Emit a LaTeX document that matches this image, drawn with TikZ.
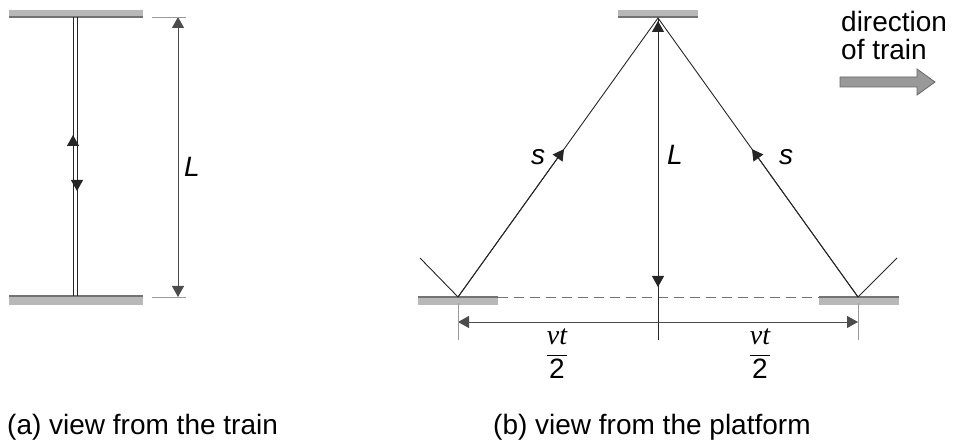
\documentclass[tikz,border=0pt]{standalone}
\usepackage{fontspec}
\setmainfont{Liberation Sans}
\newfontfamily\vtfont{Liberation Serif}
\usepackage{amsmath}
\usetikzlibrary{arrows.meta,calc}

\begin{document}
\begin{tikzpicture}[x=1pt, y=-1pt,
        mirror/.style={fill=black!28},
        mirrorface/.style={draw=black!55, line width=1.2pt},
        ray/.style={draw=black!85, line width=0.9pt},
        dim/.style={draw=black!70, line width=0.9pt, {Triangle[length=11pt,width=12pt]}-{Triangle[length=11pt,width=12pt]}},
        ext/.style={draw=black!40, line width=0.7pt},
        tip/.style={-{Triangle[length=11pt,width=12pt]}},
        lbl/.style={font=\fontsize{28}{28}\selectfont, inner sep=0pt}
    ]
        \useasboundingbox (0,0) rectangle (954,443);

        % (a) view from the train
        \coordinate (aTop) at (75,17);
        \coordinate (aBot) at (75,296);
        \fill[mirror] (9,10) rectangle (143,17);
        \draw[mirrorface] (9,17) -- (143,17);
        \fill[mirror] (9,296) rectangle (143,305);
        \draw[mirrorface] (9,296) -- (143,296);

        \draw[ray, line width=0.7pt] ([xshift=-2pt]aTop) -- ([xshift=-2pt]aBot);
        \draw[ray, line width=0.7pt] ([xshift=2pt]aTop) -- ([xshift=2pt]aBot);
        \draw[ray, tip] (73,148) -- (73,135);
        \draw[ray, tip] (77,178) -- (77,191);

        \coordinate (dimTop) at (178,17);
        \coordinate (dimBot) at (178,297);
        \draw[dim] (dimTop) -- (dimBot);
        \draw[ext] (152,17) -- (186,17);
        \draw[ext] (152,297) -- (186,297);
        \node[lbl, anchor=base west] (Lleft) at (184,177) {\textit{L}};

        % (b) view from the platform
        \coordinate (apex) at (658,18);
        \coordinate (bl) at (458,297);
        \coordinate (br) at (858,297);
        \fill[mirror] (618,10) rectangle (698,17);
        \draw[mirrorface] (618,17) -- (698,17);
        \fill[mirror] (418,297) rectangle (498,305);
        \draw[mirrorface] (418,297) -- (498,297);
        \fill[mirror] (819,297) rectangle (899,305);
        \draw[mirrorface] (819,297) -- (899,297);
        \draw[black!55, line width=0.9pt, dash pattern=on 10pt off 6pt] (498,297) -- (819,297);

        \draw[ray] (bl) -- (apex) -- (br);
        \draw[ray] (420,258) -- (bl);
        \draw[ray] (br) -- (897,258);
        \draw[ray, tip] (bl) -- ($(bl)!0.53!(apex)$);
        \draw[ray, tip] (br) -- ($(br)!0.53!(apex)$);

        \coordinate (midBot) at (658,340);
        \draw[ray] (apex) -- (midBot);
        \draw[ray, tip] (658,45) -- (658,21);
        \draw[ray, tip] (658,270) -- (658,287);

        \draw[dim] (458,322) -- (858,322);
        \draw[ext] (458,303) -- (458,340);
        \draw[ext] (858,303) -- (858,340);

        \node[lbl, anchor=base west] (sl) at (531,165) {\textit{s}};
        \node[lbl, anchor=base west] (sr) at (779,165) {\textit{s}};
        \node[lbl, anchor=base west] (Lmid) at (667,165) {\textit{L}};
        \node[lbl] (vtl) at (557,354) {$\dfrac{\text{\vtfont\itshape vt}}{\text{2}}$};
        \node[lbl] (vtr) at (760,354) {$\dfrac{\text{\vtfont\itshape vt}}{\text{2}}$};

        % direction of train
        \node[lbl, anchor=north west, align=left] (dir) at (841,11) {direction\\of train};
        \filldraw[fill=black!40, draw=black!60, line width=0.8pt]
            (840,77) -- (917,77) -- (917,69) -- (935,82) -- (917,95) -- (917,87) -- (840,87) -- cycle;

        % captions
        \node[lbl, anchor=base west] (capa) at (7,435) {(a) view from the train};
        \node[lbl, anchor=base west] (capb) at (493,435) {(b) view from the platform};
    \end{tikzpicture}
\end{document}
